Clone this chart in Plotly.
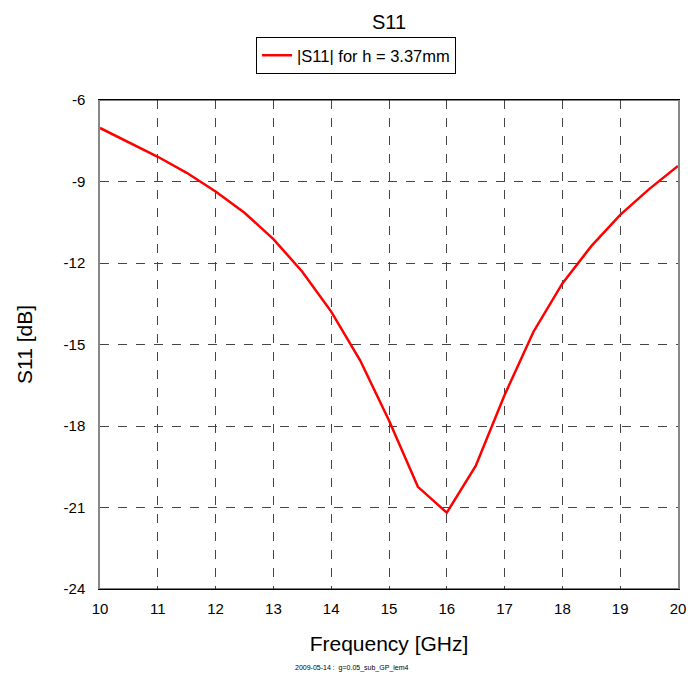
import plotly.graph_objects as go

freq_ghz = [10, 10.5, 11, 11.5, 12, 12.5, 13, 13.5, 14, 14.5, 15, 15.5, 16,
            16.5, 17, 17.5, 18, 18.5, 19, 19.5, 20]
s11_db = [-7.03, -7.55, -8.09, -8.68, -9.37, -10.15, -11.12, -12.32, -13.79,
          -15.58, -17.8, -20.24, -21.19, -19.47, -16.86, -14.53, -12.75,
          -11.38, -10.23, -9.28, -8.43]
x_ticks = [10, 11, 12, 13, 14, 15, 16, 17, 18, 19, 20]
y_ticks = [-24, -21, -18, -15, -12, -9, -6]

FONT = "Liberation Sans, Arial, sans-serif"

fig = go.Figure()
fig.add_trace(go.Scatter(
    x=freq_ghz, y=s11_db, mode="lines",
    name="|S11| for h = 3.37mm",
    line=dict(color="#ff0000", width=2.5),
))

fig.update_layout(
    width=688, height=675, autosize=False,
    paper_bgcolor="white", plot_bgcolor="white",
    margin=dict(l=100, r=10, t=100, b=86, pad=0, autoexpand=False),
    font=dict(family=FONT, color="black"),
    title=dict(text="S11", x=0.5, xref="paper", xanchor="center",
               y=1 - 22 / 675, yref="container", yanchor="middle",
               font=dict(size=20, family=FONT, color="black")),
    showlegend=True,
    legend=dict(orientation="h", x=0.443, xanchor="center",
                y=1 + (100 - 37) / 489, yanchor="top",
                bordercolor="black", borderwidth=1, bgcolor="white",
                font=dict(size=16.5, family=FONT, color="black"),
                itemwidth=30),
    xaxis=dict(range=[10, 20], tickvals=x_ticks,
               ticktext=[str(v) for v in x_ticks],
               showgrid=True, gridcolor="#444444", griddash="dash", gridwidth=1,
               showline=True, linecolor="black", linewidth=1, mirror=True,
               ticks="", zeroline=False, ticklabelstandoff=6, automargin=False,
               tickfont=dict(size=15, family=FONT, color="black"),
               title=dict(text="Frequency [GHz]", standoff=20,
                          font=dict(size=21, family=FONT, color="black"))),
    yaxis=dict(range=[-24, -6], tickvals=y_ticks,
               ticktext=[str(v) for v in y_ticks],
               showgrid=True, gridcolor="#444444", griddash="dash", gridwidth=1,
               showline=True, linecolor="#888888", linewidth=1.5, mirror=True,
               ticks="", zeroline=False, ticklabelstandoff=10, automargin=False,
               tickfont=dict(size=15, family=FONT, color="black"),
               title=dict(text="S11 [dB]", standoff=25,
                          font=dict(size=21, family=FONT, color="black"))),
)

fig.add_shape(type="line", xref="paper", yref="paper", x0=0, x1=1, y0=1, y1=1,
              line=dict(color="black", width=1))
fig.add_shape(type="line", xref="paper", yref="paper", x0=0, x1=1, y0=0, y1=0,
              line=dict(color="black", width=1))

fig.add_annotation(text="2009-05-14 :  g=0.05_sub_GP_lem4",
                   xref="paper", yref="paper", x=(352 - 100) / 578,
                   y=-(668 - 589) / 489,
                   xanchor="center", yanchor="middle", showarrow=False,
                   font=dict(size=7, family=FONT, color="black"))

fig.write_html("out.html",
               config={"displayModeBar": False, "responsive": False},
               post_script="document.body.style.margin='0';"
                           "document.body.style.overflow='hidden';")
